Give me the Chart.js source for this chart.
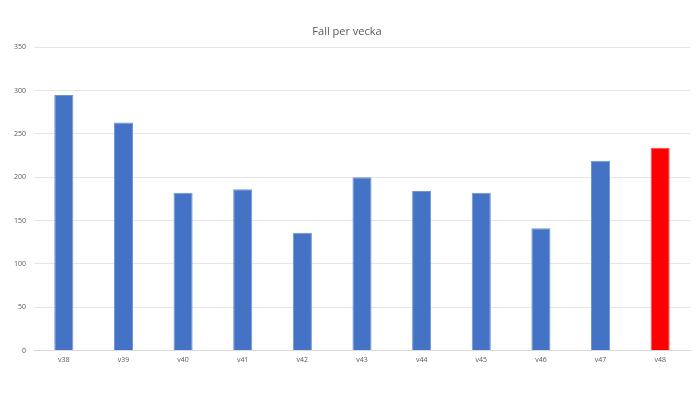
<!DOCTYPE html>
<html>
<head>
<meta charset="utf-8">
<script src="https://cdn.jsdelivr.net/npm/chart.js@4"></script>
<style>
  html, body { margin: 0; padding: 0; background: #fff; }
  #wrap { width: 700px; height: 394px; }
</style>
</head>
<body>
<div id="wrap"><canvas id="myChart" width="700" height="394"></canvas></div>
<script>
const weeks = ['v38', 'v39', 'v40', 'v41', 'v42', 'v43', 'v44', 'v45', 'v46', 'v47', 'v48'];
const cases = [295, 263, 182, 186, 136, 200, 184, 182, 141, 219, 234];
const yTicks = [0, 50, 100, 150, 200, 250, 300, 350];

const barColors = weeks.map((w, i) => i === weeks.length - 1 ? '#ff0000' : '#4472c4');
const edgeColors = weeks.map((w, i) => i === weeks.length - 1 ? '#ff4d4d' : '#6f93d3');

var ctx = document.getElementById('myChart').getContext('2d');

var myChart = new Chart(ctx, { // eslint-disable-line
    type: 'bar',
    data: {
        labels: weeks,
        datasets: [
            {
                label: 'Fall',
                data: cases,
                backgroundColor: barColors,
                borderColor: edgeColors,
                borderWidth: 1,
                barPercentage: 0.32,
                categoryPercentage: 1
            }
        ]
    },
    options: {
        responsive: false,
        animation: false,
        layout: {
            padding: { left: 4, right: 10, top: 10, bottom: 25 }
        },
        plugins: {
            legend: { display: false },
            tooltip: { enabled: false },
            title: {
                display: true,
                text: 'Fall per vecka',
                color: '#595959',
                font: { family: 'Open Sans', size: 11, weight: 'normal' },
                padding: { top: 15, bottom: 9 }
            }
        },
        scales: {
            x: {
                grid: { display: false, drawTicks: false },
                border: { color: '#d9d9d9', width: 1 },
                ticks: {
                    color: '#595959',
                    font: { family: 'Open Sans', size: 7 },
                    padding: 5,
                    maxRotation: 0
                }
            },
            y: {
                min: 0,
                max: 350,
                afterBuildTicks: (axis) => {
                    axis.ticks = yTicks.map(v => ({ value: v }));
                },
                afterFit: (axis) => {
                    axis.width = 30;
                },
                grid: { color: '#e6e6e6', drawTicks: false },
                border: { display: false },
                ticks: {
                    color: '#595959',
                    font: { family: 'Open Sans', size: 7 },
                    padding: 8
                }
            }
        }
    }
});
</script>
</body>
</html>
